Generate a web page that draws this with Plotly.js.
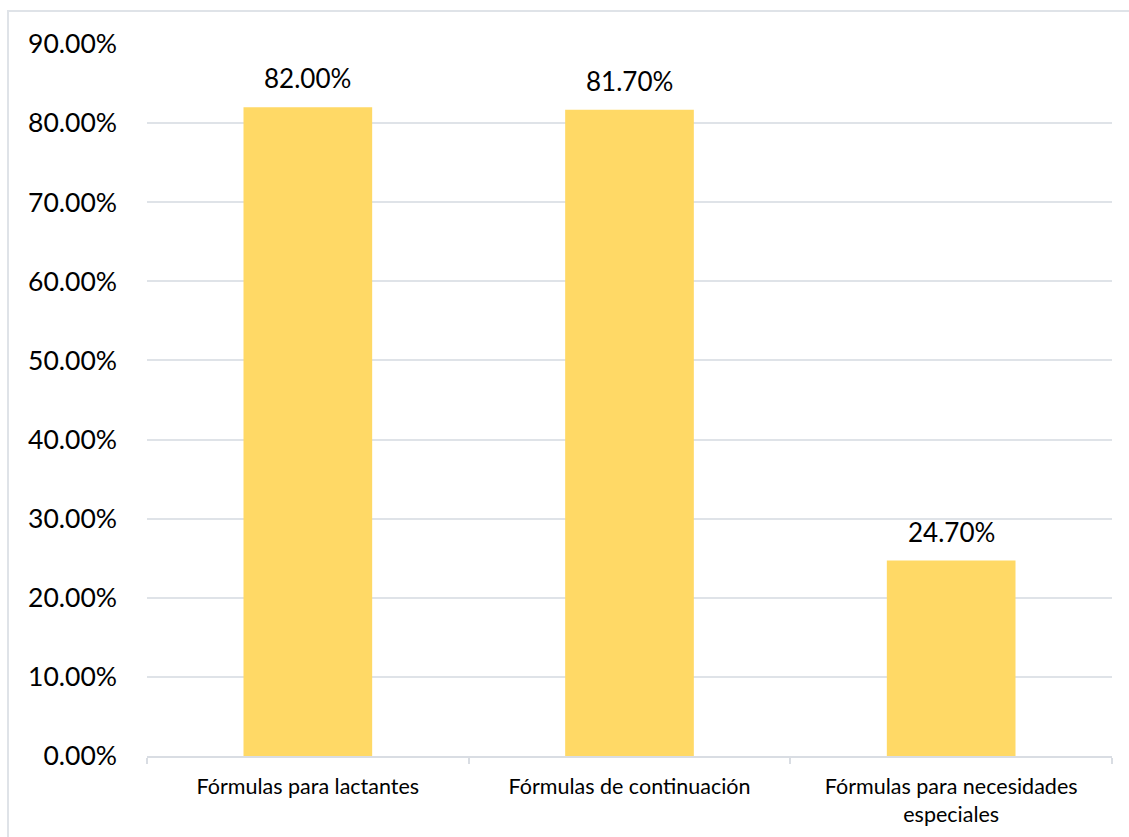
<!DOCTYPE html>
<html>
<head>
<meta charset="utf-8">
<script src="https://cdn.plot.ly/plotly-3.0.1.min.js"></script>
<style>
html,body{margin:0;padding:0;background:#fff;}
#chart{width:1129px;height:837px;}
</style>
</head>
<body>
<div id="chart"></div>
<script>
const categories = ["Fórmulas para lactantes", "Fórmulas de continuación", "Fórmulas para necesidades<br>especiales"];
const values = [0.82, 0.817, 0.247];
const valueLabels = ["82.00%", "81.70%", "24.70%"];
const yTickValues = [0, 0.1, 0.2, 0.3, 0.4, 0.5, 0.6, 0.7, 0.8, 0.9];

const fontFam = "Lato, sans-serif";

const trace = {
  type: "bar",
  x: categories,
  y: values,
  marker: {color: "#FFD966"},
  hoverinfo: "x+y"
};

const annotations = categories.map((c, i) => ({
  x: c, y: values[i], xref: "x", yref: "y",
  text: valueLabels[i],
  showarrow: false,
  yanchor: "bottom",
  yshift: 11,
  font: {family: fontFam, size: 26, color: "#000"}
}));

const layout = {
  width: 1129,
  height: 837,
  margin: {l: 147, r: 17, t: 44, b: 81},
  paper_bgcolor: "#fff",
  plot_bgcolor: "#fff",
  bargap: 0.6,
  showlegend: false,
  font: {family: fontFam, color: "#000"},
  xaxis: {
    type: "category",
    showline: true,
    linecolor: "#d9dde3",
    linewidth: 2,
    ticks: "outside",
    tickson: "boundaries",
    ticklen: 6,
    tickwidth: 2,
    tickcolor: "#d9dde3",
    tickfont: {family: fontFam, size: 21.5, color: "#000"},
    ticklabelstandoff: 10,
    showgrid: false
  },
  yaxis: {
    range: [0, 0.9],
    tickvals: yTickValues,
    tickformat: ".2%",
    tickfont: {family: fontFam, size: 26.5, color: "#000"},
    showgrid: true,
    gridcolor: "#dfe3e8",
    gridwidth: 2,
    zeroline: false,
    showline: false,
    ticks: "",
    ticklabelstandoff: 29
  },
  annotations: annotations,
  shapes: [{
    type: "rect",
    xref: "paper", yref: "paper",
    x0: (8 - 147) / 965, x1: (1140 - 147) / 965,
    y0: (756 - 850) / 712, y1: (756 - 11) / 712,
    line: {color: "#dfe3e8", width: 2},
    fillcolor: "rgba(0,0,0,0)",
    layer: "below"
  }]
};

Plotly.newPlot("chart", [trace], layout, {displayModeBar: false, staticPlot: true});
</script>
</body>
</html>
